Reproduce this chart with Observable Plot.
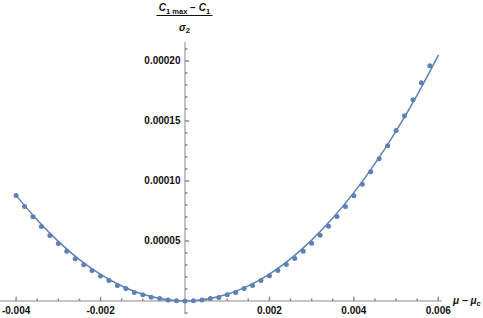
<!DOCTYPE html>
<html><head><meta charset="utf-8">
<script src="https://cdn.jsdelivr.net/npm/d3@7"></script>
<script src="https://cdn.jsdelivr.net/npm/@observablehq/plot@0.6"></script>
<style>body{margin:0;background:#fff}#chart{width:483px;height:318px}</style>
</head><body><div id="chart"></div>
<script>
// Data points (μ − μc, (C1max − C1)/σ2)
const muValues = [-0.004,-0.0038,-0.0036,-0.0034,-0.0032,-0.003,-0.0028,-0.0026,-0.0024,-0.0022,
  -0.002,-0.0018,-0.0016,-0.0014,-0.0012,-0.001,-0.0008,-0.0006,-0.0004,-0.0002,
  0,0.0002,0.0004,0.0006,0.0008,0.001,0.0012,0.0014,0.0016,0.0018,
  0.002,0.0022,0.0024,0.0026,0.0028,0.003,0.0032,0.0034,0.0036,0.0038,
  0.004,0.0042,0.0044,0.0046,0.0048,0.005,0.0052,0.0054,0.0056,0.0058];
const cValues = [8.79e-5,7.88e-5,7.02e-5,6.21e-5,5.45e-5,4.80e-5,4.14e-5,3.53e-5,3.03e-5,2.54e-5,
  2.08e-5,1.71e-5,1.29e-5,1.04e-5,7.0e-6,5.2e-6,3.1e-6,2.1e-6,0.8e-6,0.2e-6,
  0,0.2e-6,0.8e-6,2.1e-6,3.0e-6,5.2e-6,7.1e-6,1.04e-5,1.29e-5,1.71e-5,
  2.11e-5,2.54e-5,3.05e-5,3.55e-5,4.15e-5,4.81e-5,5.47e-5,6.22e-5,7.04e-5,7.87e-5,
  8.78e-5,9.72e-5,1.077e-4,1.185e-4,1.293e-4,1.42e-4,1.543e-4,1.677e-4,1.818e-4,1.96e-4];
// Fitted curve
const fitMu = [-0.004,-0.0035,-0.003,-0.0025,-0.002,-0.0015,-0.001,-0.0005,0,0.0005,0.001,0.0015,
  0.002,0.0025,0.003,0.0035,0.004,0.0045,0.005,0.0055,0.006];
const fitC = [8.80e-5,6.75e-5,4.97e-5,3.45e-5,2.21e-5,1.248e-5,5.55e-6,1.39e-6,0,1.40e-6,5.59e-6,1.26e-5,
  2.24e-5,3.51e-5,5.07e-5,6.91e-5,9.03e-5,1.145e-4,1.416e-4,1.716e-4,2.046e-4];

const xMajorTicks = [-0.004,-0.002,0.002,0.004,0.006];
const xTickLabels = ["-0.004","-0.002","0.002","0.004","0.006"];
const xMinorTicks = [-0.0035,-0.003,-0.0025,-0.0015,-0.001,-0.0005,0.0005,0.001,0.0015,0.0025,0.003,0.0035,0.0045,0.005,0.0055];
const yMajorTicks = [0.00005,0.0001,0.00015,0.0002];
const yTickLabels = ["0.00005","0.00010","0.00015","0.00020"];
const yMinorTicks = [-0.00001,0.00001,0.00002,0.00003,0.00004,0.00006,0.00007,0.00008,0.00009,
  0.00011,0.00012,0.00013,0.00014,0.00016,0.00017,0.00018,0.00019,0.00021];

const blue = "#5E81B5";
const axisColor = "#8a8a8a";
const font = "'Liberation Sans', Arial, sans-serif";

const tickUp = {draw(ctx, size){ const l = Math.sqrt(size/Math.PI); ctx.moveTo(0,0); ctx.lineTo(0,-l); }};
const tickRight = {draw(ctx, size){ const l = Math.sqrt(size/Math.PI); ctx.moveTo(0,0); ctx.lineTo(l,0); }};

const points = muValues.map((m,i)=>({mu:m, c:cValues[i]}));
const fit = fitMu.map((m,i)=>({mu:m, c:fitC[i]}));

const plot = Plot.plot({
  width: 483, height: 318,
  marginLeft: 0, marginRight: 41, marginTop: 42, marginBottom: 4,
  x: {domain: [-0.00437, 0.0061], axis: null},
  y: {domain: [-0.00001125, 0.0002154], axis: null},
  style: {fontFamily: font, background: "#fff", overflow: "visible"},
  marks: [
    Plot.ruleY([0], {stroke: axisColor, strokeWidth: 1}),
    Plot.ruleX([0], {stroke: axisColor, strokeWidth: 1}),
    Plot.dot(xMinorTicks, {x: d=>d, y: 0, symbol: tickUp, r: 2.6, stroke: axisColor, fill: "none"}),
    Plot.dot(xMajorTicks, {x: d=>d, y: 0, symbol: tickUp, r: 4.2, stroke: axisColor, fill: "none"}),
    Plot.dot(yMinorTicks, {x: 0, y: d=>d, symbol: tickRight, r: 2.6, stroke: axisColor, fill: "none"}),
    Plot.dot(yMajorTicks, {x: 0, y: d=>d, symbol: tickRight, r: 4.2, stroke: axisColor, fill: "none"}),
    Plot.text(xMajorTicks, {x: d=>d, y: 0, dy: 10, text: (d,i)=>xTickLabels[i], fontSize: 10, fontWeight: "bold", fill: "#111"}),
    Plot.text(yMajorTicks, {x: 0, y: d=>d, dx: -4.5, textAnchor: "end", text: (d,i)=>yTickLabels[i], fontSize: 10, fontWeight: "bold", fill: "#111"}),
    Plot.line(fit, {x: "mu", y: "c", stroke: blue, strokeWidth: 1.5, curve: "catmull-rom"}),
    Plot.dot(points, {x: "mu", y: "c", r: 2.5, fill: blue, stroke: "none"})
  ]
});
document.getElementById("chart").appendChild(plot);

// Rich-text axis labels placed with the plot's own scales
const xs = plot.scale("x"), ys = plot.scale("y");
const sx = d3.scaleLinear(xs.domain, xs.range), sy = d3.scaleLinear(ys.domain, ys.range);
const svg = d3.select(plot);
const cx = sx(0);
const num = svg.append("text").attr("x", cx).attr("y", 11).attr("text-anchor", "middle")
  .attr("font-family", font).attr("font-weight", "bold").attr("font-size", 10).attr("fill", "#111");
num.append("tspan").attr("font-style", "italic").text("C");
num.append("tspan").attr("font-size", 7.5).attr("dy", 2.5).text("1 max");
num.append("tspan").attr("dy", -2.5).text(" \u2212 ");
num.append("tspan").attr("font-style", "italic").text("C");
num.append("tspan").attr("font-size", 7.5).attr("dy", 2.5).text("1");
svg.append("line").attr("x1", cx - 28).attr("x2", cx + 28).attr("y1", 15.5).attr("y2", 15.5)
  .attr("stroke", "#111").attr("stroke-width", 1);
const den = svg.append("text").attr("x", cx).attr("y", 31).attr("text-anchor", "middle")
  .attr("font-family", font).attr("font-weight", "bold").attr("font-size", 10).attr("fill", "#111");
den.append("tspan").attr("font-style", "italic").text("\u03C3");
den.append("tspan").attr("font-size", 7.5).attr("dy", 2).text("2");
const xl = svg.append("text").attr("x", sx(xs.domain[1]) + 11).attr("y", sy(0) + 3.5)
  .attr("text-anchor", "start")
  .attr("font-family", font).attr("font-weight", "bold").attr("font-size", 10).attr("fill", "#111");
xl.append("tspan").attr("font-style", "italic").text("\u03BC \u2212 \u03BC");
xl.append("tspan").attr("font-style", "italic").attr("font-size", 7.5).attr("dy", 2.5).text("c");
</script></body></html>
